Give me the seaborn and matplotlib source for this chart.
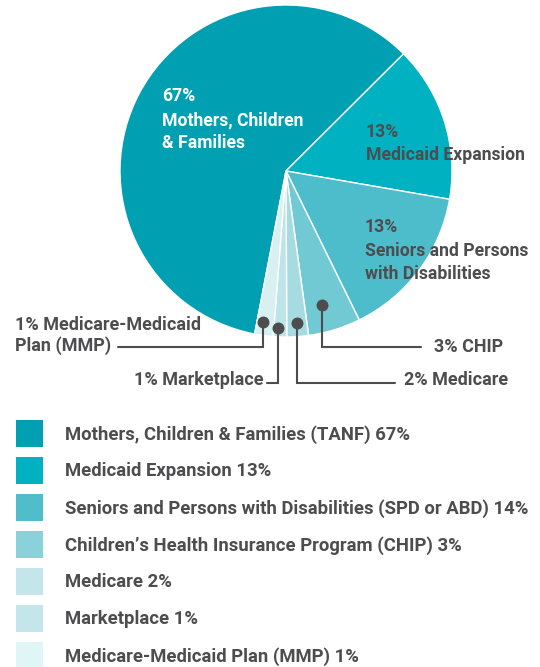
import matplotlib

matplotlib.use("Agg")

import matplotlib.pyplot as plt
import seaborn as sns
from matplotlib.patches import Patch

# wedge sizes as drawn in the chart (share of the circle, %)
CATEGORIES = [
    "Mothers, Children & Families (TANF)",
    "Medicaid Expansion",
    "Seniors and Persons with Disabilities (SPD or ABD)",
    "Children\u2019s Health Insurance Program (CHIP)",
    "Medicare",
    "Marketplace",
    "Medicare-Medicaid Plan (MMP)",
]
SHARES = [59.5, 15.2, 15.0, 5.1, 2.1, 1.3, 1.8]
LABEL_PCT = ["67%", "13%", "14%", "3%", "2%", "1%", "1%"]

PIE_COLORS = ["#009fb1", "#00b2c1", "#4dbdcb", "#70c9d3", "#a6dbe2", "#bce4e9", "#d9f0f2"]
LEGEND_COLORS = ["#009fb1", "#00b2c1", "#4fbdca", "#8ad1d9", "#c4e5ea", "#c4e5ea", "#e0f5f5"]

GREY = "#4d4d4f"
W, H = 540, 667
FS = 13.0
LEG_FS = 13.3


def py(y):
    # pixel row (from top) -> data y (from bottom)
    return H - y


def lines(ax, x, baselines, texts, color=GREY, ha="left", size=FS):
    for b, t in zip(baselines, texts):
        ax.text(x, py(b), t, color=color, ha=ha, va="baseline",
                fontsize=size, fontweight="bold")


def main() -> None:
    sns.set_theme(style="white")
    plt.rcParams["font.family"] = ["Roboto", "DejaVu Sans"]

    fig = plt.figure(figsize=(W / 100, H / 100), dpi=100)
    ax = fig.add_axes([0, 0, 1, 1])

    ax.pie(
        SHARES,
        colors=sns.color_palette(PIE_COLORS),
        startangle=-100.9,
        counterclock=False,
        center=(286, py(171)),
        radius=166,
        wedgeprops=dict(edgecolor="white", linewidth=1.0),
    )
    ax.set_xlim(0, W)
    ax.set_ylim(0, H)
    ax.set_aspect("equal")
    ax.axis("off")

    # labels inside the pie
    lines(ax, 162, [101, 125, 148], [LABEL_PCT[0], "Mothers, Children", "& Families"],
          color="white", size=12.7)
    lines(ax, 366, [137, 160], ["13%", "Medicaid Expansion"], size=12.7)
    lines(ax, 365, [232, 256, 279], ["13%", "Seniors and Persons", "with Disabilities"], size=12.7)

    # leader lines for the small slices: (dot x, dot y, elbow y, end x)
    leaders = [
        (263, 322, 347, 118),
        (278, 328, 383, 267),
        (297, 323, 383, 395),
        (322, 305, 347, 421),
    ]
    for dx, dy, ey, ex in leaders:
        ax.plot([dx, dx, ex], [py(dy), py(ey), py(ey)], color=GREY, lw=1.5,
                solid_joinstyle="miter", zorder=3)
        ax.plot(dx, py(dy), "o", ms=8.6, color=GREY, mec="none", zorder=4)

    lines(ax, 15, [330, 351], [f"{LABEL_PCT[6]} Medicare-Medicaid", "Plan (MMP)"])
    lines(ax, 264, [385], [f"{LABEL_PCT[5]} Marketplace"], ha="right")
    lines(ax, 404, [385], [f"{LABEL_PCT[4]} Medicare"])
    lines(ax, 434, [352], [f"{LABEL_PCT[3]} CHIP"])

    # legend
    handles = [Patch(facecolor=c, edgecolor="none") for c in LEGEND_COLORS]
    legend_labels = [f"{c} {p}" for c, p in zip(CATEGORIES, LABEL_PCT)]
    fs_px = LEG_FS * 100 / 72
    # square side of 27 px: legend subtracts a descent of 0.35*fs*(h-0.7)
    hh = (27 / fs_px - 0.245) / 0.65
    leg = fig.legend(
        handles,
        legend_labels,
        loc="upper left",
        bbox_to_anchor=(16 / W, 1 - 420 / H),
        frameon=False,
        borderpad=0,
        borderaxespad=0,
        handlelength=27 / fs_px,
        handleheight=hh,
        handletextpad=22 / fs_px,
        labelspacing=10 / fs_px,
        prop=dict(size=LEG_FS, weight="bold"),
    )
    for t in leg.get_texts():
        t.set_color(GREY)

    fig.savefig("out.png", dpi=100)
    plt.close(fig)


if __name__ == "__main__":
    main()
